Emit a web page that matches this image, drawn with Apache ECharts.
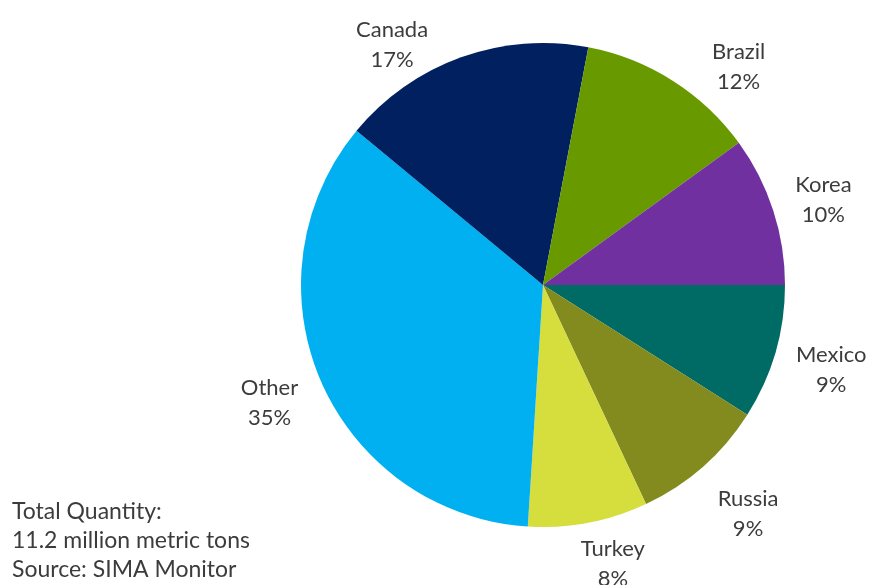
<!DOCTYPE html>
<html>
<head>
<meta charset="utf-8">
<script src="https://cdn.jsdelivr.net/npm/echarts@6/dist/echarts.min.js"></script>
<style>
    html, body { margin: 0; padding: 0; background: #fff; }
    #chart { width: 871px; height: 585px; }
</style>
</head>
<body>
<div id="chart"></div>
<script>
    // slices in drawing order, clockwise from 3 o'clock
    var countries = ['Mexico', 'Russia', 'Turkey', 'Other', 'Canada', 'Brazil', 'Korea'];
    var shares = [9, 9, 8, 35, 17, 12, 10];
    var colors = ['#006a64', '#838b1f', '#d6de3e', '#00b0f0', '#002060', '#689a00', '#7030a0'];
    var noteLines = ['Total Quantity:', '11.2 million metric tons', 'Source: SIMA Monitor'];
    // nudges so labels sit where the original put them (not on the mid ray)
    var labelShift = [[2, 2], [8, 5], [14, -14], [0, 0], [-50, 40], [36, 34], [-3, 7]];

    var chartDom = document.getElementById('chart');
    var myChart = echarts.init(chartDom);
    var option;

    var data = [];
    var labelData = [];
    for (var i = 0; i < countries.length; i++) {
        data.push({ name: countries[i], value: shares[i], itemStyle: { color: colors[i] } });
        labelData.push({ name: countries[i], value: shares[i], label: { offset: labelShift[i] } });
    }

    option = {
        backgroundColor: '#fff',
        animation: false,
        series: [{
            type: 'pie',
            center: [543, 285],
            radius: 242,
            startAngle: 0,
            clockwise: true,
            label: { show: false },
            labelLine: { show: false },
            data: data
        }, {
            // invisible ring, only used to put the labels round the pie
            type: 'pie',
            center: [543, 285],
            radius: [272, 318],
            startAngle: 0,
            clockwise: true,
            silent: true,
            itemStyle: { color: 'rgba(0,0,0,0)' },
            label: {
                show: true,
                position: 'inside',
                formatter: '{b}\n{c}%',
                color: '#3c3c3c',
                fontFamily: 'Lato',
                fontSize: 22,
                lineHeight: 30
            },
            labelLine: { show: false },
            data: labelData
        }],
        graphic: [{
            type: 'text',
            left: 12,
            top: 497,
            style: {
                text: noteLines.join('\n'),
                fill: '#3c3c3c',
                font: '23px Lato',
                lineHeight: 29
            }
        }]
    };

    option && myChart.setOption(option);
</script>
</body>
</html>
